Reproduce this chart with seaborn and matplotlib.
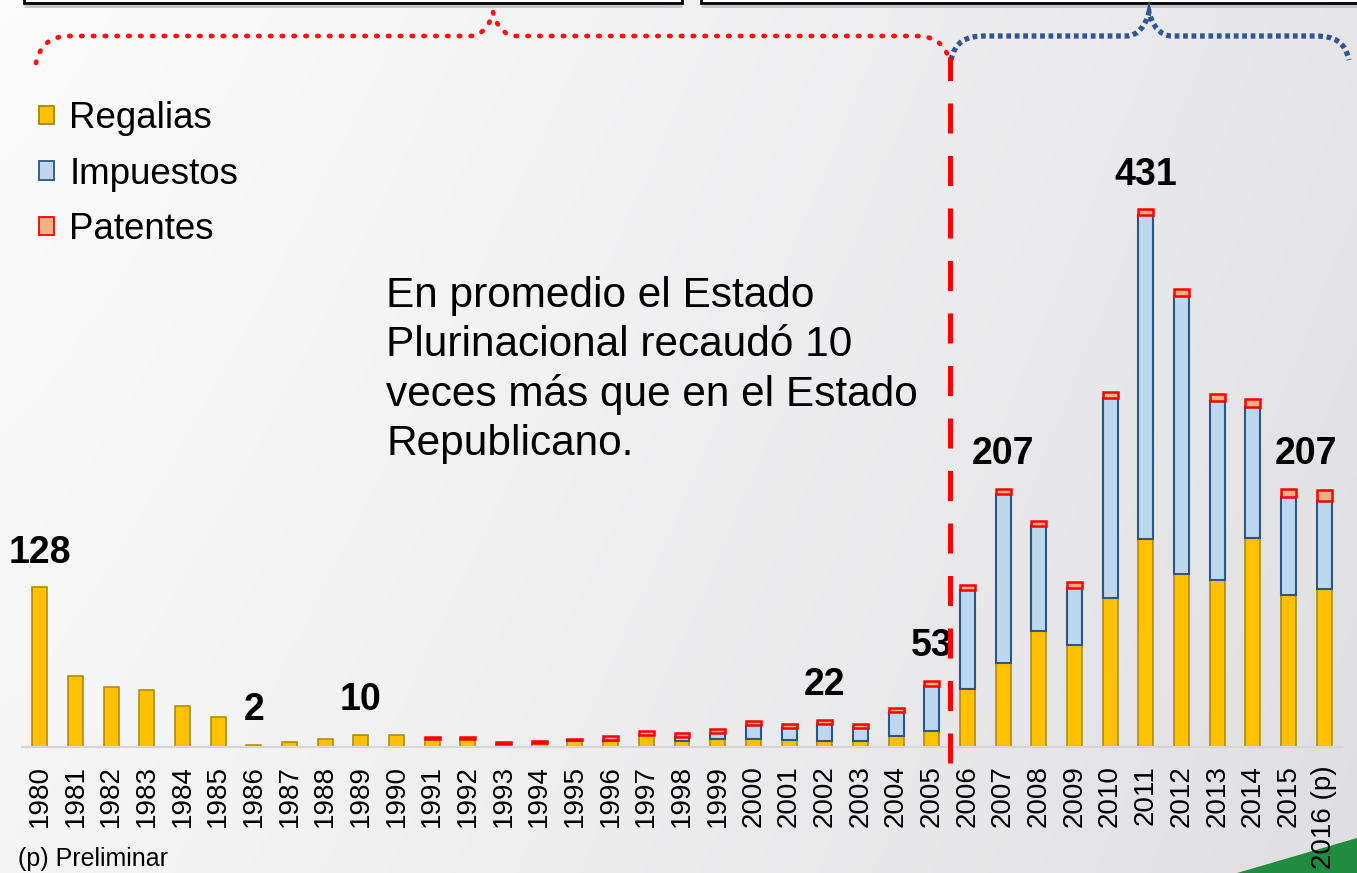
import numpy as np
import pandas as pd
import matplotlib
matplotlib.use("Agg")
import matplotlib.pyplot as plt
import seaborn as sns
from matplotlib.patches import Patch, Rectangle, Polygon, PathPatch
from matplotlib.path import Path

# ---- data (millones de $us) ----
years = [str(y) for y in range(1980, 2016)] + ["2016 (p)"]

regalias = [128, 57, 48, 46, 33, 24, 2, 3.8, 6.2, 10.0, 9.4,
            6.6, 6.8, 2.5, 3.5, 4.5, 4.8, 9.3, 5.1, 6.2, 6.7, 5.6, 5.1, 5.1, 8.6, 12.8,
            46.8, 67.6, 92.9, 81.7, 119.7, 166.7, 138.9, 133.5, 167.2, 121.8, 126.4]

impuestos = [0, 0, 0, 0, 0, 0, 0, 0, 0, 0, 0,
             0, 0, 0, 0, 0.8, 0.8, 0.3, 3.0, 5.0, 11.0, 9.9, 13.6, 9.9, 19.5, 36.3,
             79.3, 135.4, 83.9, 46.0, 159.5, 259.3, 222.4, 143.7, 105.2, 78.5, 70.8]

patentes = [0, 0, 0, 0, 0, 0, 0, 0, 0, 0, 0,
            1.2, 1.2, 1.5, 1.3, 1.4, 3.0, 3.2, 3.4, 3.2, 2.9, 2.9, 3.3, 3.4, 3.5, 3.9,
            3.4, 4.0, 4.2, 4.2, 5.0, 5.0, 5.6, 5.9, 6.4, 6.7, 8.6]

series_names = ["Regalias", "Impuestos", "Patentes"]
labelled_years = ["1980", "1986", "1989", "2002", "2005", "2007", "2011", "2015"]

note_text = "En promedio el Estado\nPlurinacional recaudó 10\nveces más que en el Estado\nRepublicano."
footnote = "(p) Preliminar"

df = pd.DataFrame({"year": years, "reg": regalias, "imp": impuestos, "pat": patentes})
df["imp_base"] = df["reg"]
df["pat_base"] = df["reg"] + df["imp"]
df["total"] = df["reg"] + df["imp"] + df["pat"]

# ---- style ----
sns.set_style("white")
plt.rcParams["font.family"] = ["Liberation Sans", "DejaVu Sans"]
plt.rcParams["text.color"] = "black"
plt.rcParams["xtick.color"] = "black"
plt.rcParams["xtick.labelcolor"] = "black"

W, H = 1357, 873
fig = plt.figure(figsize=(W / 100, H / 100), dpi=100)

# background layer in pixel coordinates
bg = fig.add_axes([0, 0, 1, 1], zorder=-5)
bg.set_xlim(0, W)
bg.set_ylim(H, 0)
bg.axis("off")
gx = np.linspace(0, 1, 300)
gy = np.linspace(0, 1, 150)
X, Y = np.meshgrid(gx, gy)
val = 0.985 - 0.085 * X ** 1.2 - 0.025 * Y
rgb = np.dstack([val, val, np.clip(val + 0.01 * X, 0, 1)])
bg.imshow(rgb, extent=[0, W, H, 0], aspect="auto", zorder=0)

# header boxes
for x0, x1 in [(24, 682), (701, W + 20)]:
    bg.plot([x0, x1], [6, 6], color="#c4c4c4", lw=2.0, zorder=1, solid_capstyle="butt")
    bg.add_patch(Rectangle((x0, -40), x1 - x0, 43, facecolor="white",
                           edgecolor="black", lw=2.0, zorder=2))

# braces over the two periods
def brace(x0, y_end, x1, xm, y_h=36, y_peak=12):
    verts = [(x0, y_end), (x0 + 4, y_end - 18), (x0 + 14, y_h), (x0 + 34, y_h),
             (xm - 23, y_h),
             (xm - 11, y_h), (xm - 3, y_h - 11), (xm, y_peak),
             (xm + 3, y_h - 11), (xm + 11, y_h), (xm + 23, y_h),
             (x1 - 34, y_h),
             (x1 - 14, y_h), (x1 - 4, y_end - 18), (x1, y_end)]
    codes = [Path.MOVETO, Path.CURVE4, Path.CURVE4, Path.CURVE4,
             Path.LINETO,
             Path.CURVE4, Path.CURVE4, Path.CURVE4,
             Path.CURVE4, Path.CURVE4, Path.CURVE4,
             Path.LINETO,
             Path.CURVE4, Path.CURVE4, Path.CURVE4]
    return Path(verts, codes)

bg.add_patch(PathPatch(brace(36, 63, 950, 493), fill=False, edgecolor="#ff1010",
                       lw=3.4, linestyle=(0, (0.3, 2.2)), capstyle="round", zorder=3))
bg.add_patch(PathPatch(brace(951, 60, 1349, 1149), fill=False, edgecolor="#2f5597",
                       lw=3.8, linestyle=(0, (0.9, 0.7)), capstyle="butt", zorder=3))

# green corner accent
bg.add_patch(Polygon([(1237, H), (W, 838), (W, H)], closed=True,
                     facecolor="#1f8c3f", edgecolor="none", zorder=1))

# ---- main chart ----
K = 538 / 431          # pixels per unit
ymax = 480
base_px = 747
ax = fig.add_axes([22 / W, 1 - base_px / H, (1342 - 22) / W, ymax * K / H])
ax.patch.set_alpha(0)

bar_kw = dict(width=0.42, saturation=1, errorbar=None, ax=ax)
sns.barplot(data=df, x="year", y="reg", color="#ffc000",
            edgecolor="#a8860a", linewidth=1.1, **bar_kw)
sns.barplot(data=df, x="year", y="imp", bottom=df["imp_base"].to_numpy(),
            color="#bdd7ee", edgecolor="#2a5783", linewidth=1.5, **bar_kw)
sns.barplot(data=df, x="year", y="pat", bottom=df["pat_base"].to_numpy(),
            color="#f4b183", edgecolor="#ff0000", linewidth=1.8, **bar_kw)

for cont, col in zip(ax.containers, ["reg", "imp", "pat"]):
    for rect, v in zip(cont, df[col]):
        if v == 0:
            rect.set_visible(False)

ax.set_xlim(-0.5, len(years) - 0.5)
ax.set_ylim(0, ymax)
ax.set_xlabel("")
ax.set_ylabel("")
ax.set_yticks([])
ax.set_xticks(range(len(years)))
ax.set_xticklabels(years, rotation=90, fontsize=20, color="black")
ax.tick_params(axis="x", length=0, pad=13)
for s in ["top", "right", "left"]:
    ax.spines[s].set_visible(False)
ax.spines["bottom"].set_color("#d6d6d6")
ax.spines["bottom"].set_linewidth(1.6)

# value labels above selected bars
for yr in labelled_years:
    i = years.index(yr)
    tot = df["total"].iloc[i]
    xpos = i + 0.5 if yr == "2015" else i
    ax.annotate(f"{tot:.0f}", xy=(xpos, tot), xytext=(0, 17.6),
                textcoords="offset points", ha="center", va="baseline",
                fontsize=27, fontweight="bold", color="black", annotation_clip=False)

# divider between the two periods
ax.axvline(25.5, ymin=-12.8 / ymax, ymax=553 / ymax, color="#ff0000", lw=3.6,
           linestyle=(0, (6.0, 4.5)), clip_on=False, zorder=5)

# legend
handles = [Patch(facecolor="#ffc000", edgecolor="#a8860a", lw=1.3),
           Patch(facecolor="#bdd7ee", edgecolor="#2a5783", lw=1.3),
           Patch(facecolor="#f4b183", edgecolor="#ff0000", lw=1.3)]
leg = ax.legend(handles, series_names, loc="upper left",
                bbox_to_anchor=(39 / W, 1 - 101 / H), bbox_transform=fig.transFigure,
                frameon=False, fontsize=26.5, handlelength=0.4, handleheight=0.4,
                handletextpad=0.42, labelspacing=0.56, borderpad=0, borderaxespad=0)
for t in leg.get_texts():
    t.set_color("black")

fig.text(386 / W, 1 - 276 / H, note_text, ha="left", va="top",
         fontsize=30.5, linespacing=1.29, color="black")
fig.text(18 / W, 1 - 866 / H, footnote, ha="left", va="baseline",
         fontsize=18, color="black")

fig.savefig("out.png", dpi=100)
